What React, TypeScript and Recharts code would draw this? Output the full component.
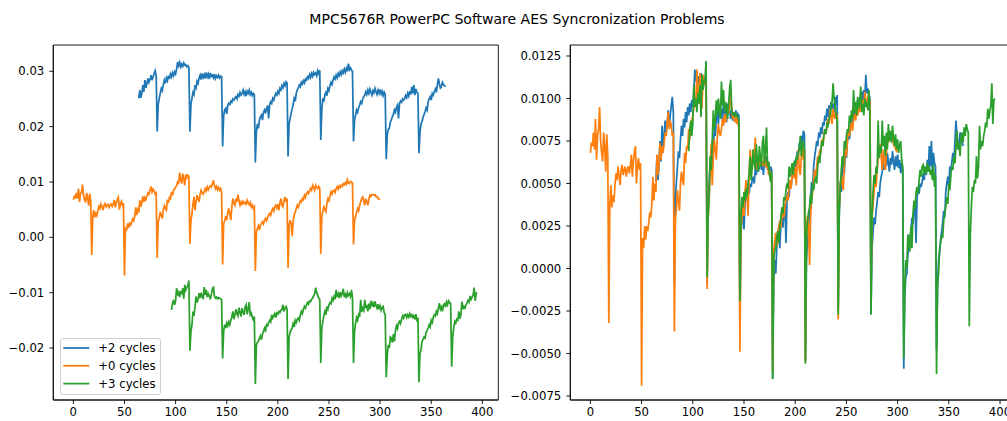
import React from "react";
import { LineChart, Line, XAxis, YAxis, ReferenceArea } from "recharts";

const FONT = '"DejaVu Sans", Verdana, sans-serif';
const TITLE = "MPC5676R PowerPC Software AES Syncronization Problems";

// x ticks (sample index) shared by both panels
const X_TICKS = [0, 50, 100, 150, 200, 250, 300, 350, 400];
const LEFT_Y_TICKS = [-0.02, -0.01, 0, 0.01, 0.02, 0.03];
const RIGHT_Y_TICKS = [-0.0075, -0.005, -0.0025, 0, 0.0025, 0.005, 0.0075, 0.01, 0.0125];

// trace start positions (sample index) and vertical offsets used on the left panel
const BLUE_START = 64;
const ORANGE_START = 0;
const GREEN_START = 96;
const BLUE_OFFSET = 0.02;
const ORANGE_OFFSET = 0;
const GREEN_OFFSET = -0.02;

// "+0 cycles" trace (x = 0..300)
const orangeValues = [
  0.0068, 0.0074, 0.0072, 0.0080, 0.0070, 0.0088, 0.0064, 0.0078, 0.0082, 0.0095, 0.0075, 0.0068, 0.0063, 0.0080, 0.0072, 0.0057, 0.0079, 0.0066,
  -0.0032,
  0.0038, 0.0049, 0.0036, 0.0043, 0.0039, 0.0049, 0.0056, 0.0052, 0.0060, 0.0055, 0.0049, 0.0058, 0.0061, 0.0055, 0.0058, 0.0060, 0.0054, 0.0058, 0.0060, 0.0056, 0.0060, 0.0067, 0.0054, 0.0063, 0.0068, 0.0072, 0.0050, 0.0060, 0.0065, 0.0058, 0.0062,
  -0.0069,
  0.0018, 0.0012, 0.0025, 0.0017, 0.0025, 0.0022, 0.0027, 0.0033, 0.0030, 0.0038, 0.0054, 0.0040, 0.0050, 0.0045, 0.0067, 0.0055, 0.0062, 0.0074, 0.0064, 0.0072, 0.0068, 0.0074, 0.0080, 0.0078, 0.0086, 0.0092, 0.0082, 0.0087, 0.0084, 0.0078, 0.0080,
  -0.0037,
  0.0028, 0.0035, 0.0046, 0.0040, 0.0034, 0.0050, 0.0057, 0.0052, 0.0049, 0.0068, 0.0062, 0.0072, 0.0070, 0.0082, 0.0076, 0.0085, 0.0087, 0.0090, 0.0094, 0.0100, 0.0098, 0.0117, 0.0104, 0.0097, 0.0115, 0.0106, 0.0094, 0.0114, 0.0108, 0.0112, 0.0110,
  -0.0012,
  0.0030, 0.0042, 0.0060, 0.0073, 0.0049, 0.0065, 0.0076, 0.0070, 0.0064, 0.0078, 0.0085, 0.0080, 0.0078, 0.0082, 0.0088, 0.0084, 0.0091, 0.0086, 0.0090, 0.0093, 0.0091, 0.0096, 0.0103, 0.0094, 0.0088, 0.0092, 0.0086, 0.0090, 0.0085, 0.0088, 0.0082,
  -0.0049,
  0.0025, 0.0029, 0.0038, 0.0031, 0.0045, 0.0052, 0.0042, 0.0031, 0.0055, 0.0070, 0.0062, 0.0058, 0.0070, 0.0064, 0.0077, 0.0066, 0.0058, 0.0064, 0.0060, 0.0065, 0.0061, 0.0063, 0.0060, 0.0067, 0.0062, 0.0059, 0.0063, 0.0055, 0.0058, 0.0052, 0.0055,
  -0.0061,
  0.0010, 0.0016, 0.0021, 0.0013, 0.0022, 0.0025, 0.0028, 0.0024, 0.0031, 0.0034, 0.0030, 0.0036, 0.0041, 0.0043, 0.0040, 0.0048, 0.0052, 0.0047, 0.0055, 0.0058, 0.0053, 0.0060, 0.0049, 0.0062, 0.0070, 0.0058, 0.0055, 0.0066, 0.0073, 0.0064, 0.0070,
  -0.0055,
  0.0022, 0.0031, 0.0025, 0.0002, 0.0030, 0.0040, 0.0045, 0.0052, 0.0058, 0.0054, 0.0060, 0.0066, 0.0064, 0.0070, 0.0068, 0.0076, 0.0072, 0.0079, 0.0082, 0.0079, 0.0084, 0.0088, 0.0085, 0.0094, 0.0090, 0.0085, 0.0094, 0.0090, 0.0088, 0.0092, 0.0089,
  -0.0030,
  0.0037, 0.0048, 0.0055, 0.0050, 0.0046, 0.0062, 0.0070, 0.0066, 0.0075, 0.0082, 0.0078, 0.0084, 0.0085, 0.0081, 0.0088, 0.0091, 0.0087, 0.0093, 0.0090, 0.0094, 0.0092, 0.0097, 0.0095, 0.0099, 0.0096, 0.0104, 0.0098, 0.0097, 0.0101, 0.0100, 0.0098,
  -0.0013,
  0.0030, 0.0037, 0.0045, 0.0052, 0.0048, 0.0058, 0.0064, 0.0070, 0.0073, 0.0066, 0.0058, 0.0070, 0.0064, 0.0058, 0.0068, 0.0076, 0.0074, 0.0077, 0.0077, 0.0076, 0.0077, 0.0073, 0.0074, 0.0070, 0.0069, 0.0070,
];

// "+2 cycles" trace (x = 64..364)
const blueValues = [
  0.0051, 0.0066, 0.0052, 0.0060, 0.0075, 0.0063, 0.0084, 0.0070, 0.0078, 0.0087, 0.0080, 0.0085, 0.0093, 0.0084, 0.0090, 0.0096, 0.0101, 0.0092,
  -0.0009,
  0.0040, 0.0051, 0.0060, 0.0069, 0.0065, 0.0076, 0.0084, 0.0078, 0.0088, 0.0083, 0.0092, 0.0086, 0.0095, 0.0090, 0.0097, 0.0092, 0.0099, 0.0095, 0.0104, 0.0117, 0.0110, 0.0116, 0.0108, 0.0113, 0.0109, 0.0115, 0.0111, 0.0112, 0.0108, 0.0110, 0.0107,
  -0.0009,
  0.0040, 0.0051, 0.0062, 0.0058, 0.0075, 0.0070, 0.0082, 0.0078, 0.0088, 0.0093, 0.0085, 0.0096, 0.0089, 0.0094, 0.0087, 0.0098, 0.0090, 0.0095, 0.0086, 0.0097, 0.0091, 0.0093, 0.0088, 0.0095, 0.0087, 0.0092, 0.0089, 0.0093, 0.0088, 0.0091, 0.0090,
  -0.0036,
  0.0020, 0.0030, 0.0033, 0.0023, 0.0038, 0.0042, 0.0040, 0.0046, 0.0044, 0.0050, 0.0048, 0.0052, 0.0054, 0.0050, 0.0058, 0.0055, 0.0062, 0.0057, 0.0060, 0.0066, 0.0058, 0.0063, 0.0055, 0.0064, 0.0060, 0.0066, 0.0058, 0.0062, 0.0056, 0.0060, 0.0058,
  -0.0065,
  -0.0010, 0.0005, -0.0003, 0.0012, 0.0018, 0.0021, 0.0012, 0.0026, 0.0030, 0.0024, 0.0033, 0.0038, 0.0015, 0.0040, 0.0045, 0.0042, 0.0051, 0.0048, 0.0055, 0.0060, 0.0057, 0.0064, 0.0060, 0.0069, 0.0066, 0.0074, 0.0070, 0.0078, 0.0074, 0.0081, 0.0079,
  -0.0054,
  0.0005, 0.0015, 0.0024, 0.0032, 0.0040, 0.0051, 0.0046, 0.0060, 0.0066, 0.0070, 0.0075, 0.0072, 0.0080, 0.0077, 0.0083, 0.0079, 0.0086, 0.0084, 0.0090, 0.0087, 0.0094, 0.0089, 0.0096, 0.0091, 0.0098, 0.0094, 0.0097, 0.0092, 0.0101, 0.0096, 0.0102,
  -0.0024,
  0.0030, 0.0051, 0.0045, 0.0058, 0.0062, 0.0056, 0.0069, 0.0065, 0.0075, 0.0080, 0.0076, 0.0084, 0.0090, 0.0086, 0.0093, 0.0088, 0.0096, 0.0092, 0.0099, 0.0094, 0.0101, 0.0097, 0.0104, 0.0098, 0.0105, 0.0100, 0.0114, 0.0103, 0.0106, 0.0102, 0.0100,
  -0.0027,
  0.0012, 0.0021, 0.0030, 0.0026, 0.0034, 0.0039, 0.0045, 0.0042, 0.0050, 0.0054, 0.0057, 0.0063, 0.0058, 0.0066, 0.0060, 0.0068, 0.0062, 0.0057, 0.0065, 0.0061, 0.0069, 0.0063, 0.0058, 0.0066, 0.0060, 0.0067, 0.0059, 0.0064, 0.0056, 0.0062, 0.0058,
  -0.0059,
  -0.0015, -0.0005, -0.0003, 0.0008, 0.0012, 0.0018, 0.0022, 0.0030, 0.0026, 0.0035, 0.0039, 0.0015, 0.0042, 0.0046, 0.0044, 0.0050, 0.0048, 0.0051, 0.0056, 0.0052, 0.0060, 0.0055, 0.0064, 0.0058, 0.0072, 0.0060, 0.0075, 0.0057, 0.0068, 0.0062, 0.0060,
  -0.0048,
  -0.0010, 0.0005, 0.0009, 0.0017, 0.0022, 0.0027, 0.0034, 0.0030, 0.0045, 0.0050, 0.0054, 0.0048, 0.0060, 0.0057, 0.0063, 0.0068, 0.0062, 0.0075, 0.0087, 0.0078, 0.0070, 0.0072, 0.0080, 0.0076, 0.0074, 0.0072,
];

// "+3 cycles" trace (x = 96..395)
const greenValues = [
  0.0069, 0.0081, 0.0087, 0.0078, 0.0085, 0.0108, 0.0095, 0.0100, 0.0092, 0.0103, 0.0097, 0.0108, 0.0089, 0.0114, 0.0105, 0.0110, 0.0112, 0.0122,
  -0.0005,
  0.0030, 0.0042, 0.0066, 0.0058, 0.0075, 0.0093, 0.0082, 0.0088, 0.0099, 0.0090, 0.0100, 0.0094, 0.0088, 0.0110, 0.0096, 0.0105, 0.0092, 0.0098, 0.0094, 0.0088, 0.0097, 0.0106, 0.0111, 0.0093, 0.0090, 0.0092, 0.0089, 0.0091, 0.0090, 0.0089, 0.0087,
  -0.0019,
  0.0030, 0.0042, 0.0036, 0.0045, 0.0040, 0.0047, 0.0042, 0.0050, 0.0056, 0.0066, 0.0052, 0.0060, 0.0070, 0.0062, 0.0058, 0.0073, 0.0064, 0.0057, 0.0072, 0.0065, 0.0060, 0.0074, 0.0078, 0.0061, 0.0070, 0.0083, 0.0060, 0.0063, 0.0055, 0.0051, 0.0057,
  -0.0065,
  0.0005, 0.0010, 0.0012, 0.0018, 0.0022, 0.0015, 0.0025, 0.0030, 0.0036, 0.0032, 0.0042, 0.0040, 0.0046, 0.0050, 0.0047, 0.0060, 0.0054, 0.0058, 0.0062, 0.0055, 0.0063, 0.0061, 0.0066, 0.0064, 0.0068, 0.0070, 0.0078, 0.0066, 0.0072, 0.0075, 0.0070,
  -0.0056,
  0.0020, 0.0028, 0.0033, 0.0036, 0.0044, 0.0038, 0.0050, 0.0046, 0.0052, 0.0054, 0.0050, 0.0060, 0.0066, 0.0062, 0.0070, 0.0075, 0.0072, 0.0078, 0.0082, 0.0079, 0.0085, 0.0084, 0.0088, 0.0090, 0.0094, 0.0098, 0.0109, 0.0100, 0.0095, 0.0090, 0.0087,
  -0.0027,
  0.0035, 0.0048, 0.0058, 0.0066, 0.0060, 0.0075, 0.0070, 0.0078, 0.0082, 0.0080, 0.0090, 0.0086, 0.0093, 0.0088, 0.0105, 0.0092, 0.0098, 0.0090, 0.0101, 0.0094, 0.0098, 0.0107, 0.0092, 0.0097, 0.0090, 0.0100, 0.0095, 0.0098, 0.0093, 0.0105, 0.0090,
  -0.0027,
  0.0030, 0.0045, 0.0055, 0.0050, 0.0060, 0.0056, 0.0087, 0.0065, 0.0072, 0.0068, 0.0087, 0.0072, 0.0078, 0.0066, 0.0080, 0.0070, 0.0085, 0.0075, 0.0081, 0.0074, 0.0084, 0.0077, 0.0072, 0.0079, 0.0070, 0.0076, 0.0068, 0.0073, 0.0075, 0.0064, 0.0060,
  -0.0053,
  -0.0013, 0.0005, 0.0000, 0.0020, 0.0018, 0.0010, 0.0025, 0.0012, 0.0032, 0.0040, 0.0035, 0.0045, 0.0048, 0.0044, 0.0052, 0.0058, 0.0054, 0.0060, 0.0061, 0.0055, 0.0060, 0.0056, 0.0062, 0.0057, 0.0060, 0.0055, 0.0058, 0.0052, 0.0061, 0.0048, 0.0055,
  -0.0062,
  -0.0010, -0.0003, 0.0012, 0.0015, 0.0020, 0.0018, 0.0028, 0.0032, 0.0036, 0.0042, 0.0038, 0.0050, 0.0046, 0.0055, 0.0060, 0.0058, 0.0066, 0.0062, 0.0072, 0.0081, 0.0070, 0.0074, 0.0066, 0.0078, 0.0080, 0.0074, 0.0083, 0.0078, 0.0085, 0.0082, 0.0080,
  -0.0034,
  0.0020, 0.0036, 0.0048, 0.0045, 0.0052, 0.0050, 0.0066, 0.0053, 0.0060, 0.0084, 0.0070, 0.0075, 0.0072, 0.0078, 0.0081, 0.0086, 0.0083, 0.0094, 0.0088, 0.0092, 0.0096, 0.0109, 0.0085, 0.0099, 0.0100,
];

const SERIES = [
  { key: "blue", label: "+2 cycles", color: "#1f77b4", start: BLUE_START, offset: BLUE_OFFSET, values: blueValues },
  { key: "orange", label: "+0 cycles", color: "#ff7f0e", start: ORANGE_START, offset: ORANGE_OFFSET, values: orangeValues },
  { key: "green", label: "+3 cycles", color: "#2ca02c", start: GREEN_START, offset: GREEN_OFFSET, values: greenValues },
];

function buildRows(withOffset: boolean) {
  let maxX = 0;
  SERIES.forEach((s) => (maxX = Math.max(maxX, s.start + s.values.length - 1)));
  const rows: any[] = [];
  for (let x = 0; x <= maxX; x++) {
    const row: any = { x };
    SERIES.forEach((s) => {
      const i = x - s.start;
      if (i >= 0 && i < s.values.length) row[s.key] = s.values[i] + (withOffset ? s.offset : 0);
    });
    rows.push(row);
  }
  return rows;
}

const leftRows = buildRows(true);
const rightRows = buildRows(false);

const minus = (s: string) => s.replace("-", "\u2212");
const tickStyle = { fill: "#000", fontSize: 11.7, fontFamily: FONT };
const X_DOMAIN: [number, number] = [-19.6, 415.6];

function Panel(props: {
  left: number;
  width: number;
  yWidth: number;
  marginRight: number;
  rows: any[];
  yDomain: [number, number];
  yTicks: number[];
  decimals: number;
}) {
  const { left, width, yWidth, marginRight, rows, yDomain, yTicks, decimals } = props;
  return (
    <div style={{ position: "absolute", left, top: 0 }}>
      <LineChart width={width} height={421} data={rows} margin={{ top: 45, right: marginRight, bottom: 0, left: 0 }}>
        <XAxis
          dataKey="x"
          type="number"
          domain={X_DOMAIN}
          allowDataOverflow
          ticks={X_TICKS}
          interval={0}
          height={21}
          tick={tickStyle}
          tickSize={4}
          tickMargin={4}
          tickLine={{ stroke: "#000", strokeWidth: 0.9 }}
          axisLine={{ stroke: "#000", strokeWidth: 0.9 }}
        />
        <YAxis
          type="number"
          domain={yDomain}
          allowDataOverflow
          ticks={yTicks}
          interval={0}
          width={yWidth}
          tick={tickStyle}
          tickSize={4}
          tickMargin={5}
          tickFormatter={(v: number) => minus(v.toFixed(decimals))}
          tickLine={{ stroke: "#000", strokeWidth: 0.9 }}
          axisLine={{ stroke: "#000", strokeWidth: 0.9 }}
        />
        {SERIES.map((s) => (
          <Line
            key={s.key}
            dataKey={s.key}
            stroke={s.color}
            strokeWidth={1.75}
            dot={false}
            activeDot={false}
            isAnimationActive={false}
            connectNulls={false}
            type="linear"
          />
        ))}
        <ReferenceArea
          x1={X_DOMAIN[0]}
          x2={X_DOMAIN[1]}
          y1={yDomain[0]}
          y2={yDomain[1]}
          fill="none"
          fillOpacity={0}
          stroke="#000"
          strokeWidth={0.9}
          ifOverflow="visible"
        />
      </LineChart>
    </div>
  );
}

function LegendBox() {
  return (
    <div
      style={{
        position: "absolute",
        left: 60,
        top: 338,
        width: 101,
        height: 57,
        boxSizing: "border-box",
        border: "1px solid #d0d0d0",
        borderRadius: 3,
        background: "rgba(255,255,255,0.8)",
      }}
    >
      <svg width={101} height={57} style={{ position: "absolute", left: -1, top: -1 }}>
        {SERIES.map((s, i) => {
          const y = 10 + i * 17.8;
          return (
            <g key={s.key}>
              <line x1={3.3} x2={29.3} y1={y} y2={y} stroke={s.color} strokeWidth={1.75} />
              <text x={38.3} y={y + 4.2} fontSize={11.7} fontFamily={FONT} fill="#000">
                {s.label}
              </text>
            </g>
          );
        })}
      </svg>
    </div>
  );
}

export default function App() {
  return (
    <div style={{ position: "absolute", left: 0, top: 0, width: 1007, height: 421, overflow: "hidden", background: "#fff" }}>
      <svg width={1007} height={40} style={{ position: "absolute", left: 0, top: 0 }}>
        <text x={517} y={24} textAnchor="middle" fontSize={14} fontFamily={FONT} fill="#000">
          {TITLE}
        </text>
      </svg>
      <Panel
        left={0}
        width={510}
        yWidth={53.3}
        marginRight={11.7}
        rows={leftRows}
        yDomain={[-0.0294, 0.03475]}
        yTicks={LEFT_Y_TICKS}
        decimals={2}
      />
      <LegendBox />
      <Panel
        left={500}
        width={530}
        yWidth={70.3}
        marginRight={14}
        rows={rightRows}
        yDomain={[-0.007735, 0.013147]}
        yTicks={RIGHT_Y_TICKS}
        decimals={4}
      />
    </div>
  );
}
